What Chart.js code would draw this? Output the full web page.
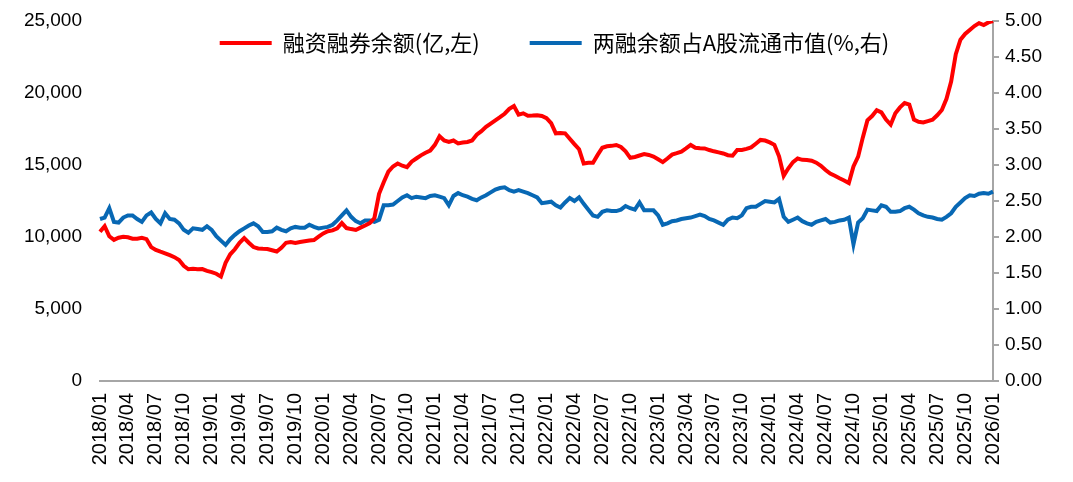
<!DOCTYPE html>
<html>
<head>
<meta charset="utf-8">
<script src="https://cdn.jsdelivr.net/npm/chart.js@4/dist/chart.umd.min.js"></script>
<style>
	html, body { margin: 0; padding: 0; background: #fff; overflow: hidden; }
	#wrap { width: 1073px; height: 482px; position: relative; }
</style>
</head>
<body>
<div id="wrap"><canvas id="margin-chart"></canvas></div>
<script>
// Half-month points, 2018/01 .. 2026/01
var dates = [];
for (var y = 2018; y <= 2026; y++) {
	for (var mo = 1; mo <= 12; mo++) {
		if (y === 2026 && mo > 1) { break; }
		var mm = (mo < 10 ? '0' : '') + mo;
		dates.push(y + '/' + mm);
		if (y < 2026) { dates.push(y + '/' + mm + '/16'); }
	}
}

// 融资融券余额 (亿元, 左轴)
var marginBalance = [
	10370, 10750, 10050, 9800, 9950, 10020, 9980, 9880, 9880, 9940, 9850, 9300, 9100, 8980, 8870, 8740, 8600, 8400, 8000, 7760, 7800, 7760, 7770, 7650,
	7560, 7450, 7250, 8200, 8800, 9150, 9600, 9930, 9600, 9300, 9200, 9180, 9170, 9080, 8990, 9250, 9600, 9650, 9580, 9650, 9700, 9750, 9790, 10020,
	10250, 10400, 10460, 10600, 10970, 10620, 10550, 10490, 10650, 10800, 10970, 11320, 13000, 13800, 14540, 14900, 15100, 14950, 14850, 15230, 15450, 15670, 15850, 16000,
	16400, 17000, 16700, 16600, 16700, 16500, 16560, 16600, 16700, 17100, 17350, 17650, 17880, 18100, 18320, 18560, 18900, 19100, 18500, 18590, 18420, 18430, 18460, 18400,
	18250, 17900, 17200, 17220, 17200, 16820, 16450, 16100, 15100, 15150, 15150, 15700, 16200, 16300, 16330, 16390, 16250, 15950, 15500, 15560, 15660, 15760, 15700, 15590,
	15400, 15200, 15450, 15720, 15820, 15930, 16150, 16390, 16200, 16160, 16150, 16040, 15950, 15880, 15800, 15680, 15650, 16050, 16050, 16120, 16220, 16480, 16740, 16700,
	16570, 16400, 15600, 14250, 14770, 15200, 15450, 15360, 15350, 15300, 15160, 14950, 14650, 14400, 14250, 14080, 13930, 13750, 14900, 15580, 16900, 18100, 18400, 18800,
	18650, 18150, 17800, 18600, 19000, 19300, 19200, 18150, 18000, 17950, 18050, 18150, 18450, 18820, 19600, 20800, 22700, 23700, 24100, 24380, 24650, 24850, 24720, 24900,
	25000
];

// 两融余额占A股流通市值 (%, 右轴)
var marginShare = [
	2.25, 2.27, 2.40, 2.21, 2.20, 2.27, 2.30, 2.30, 2.25, 2.21, 2.30, 2.34, 2.25, 2.19, 2.33, 2.25, 2.24, 2.19, 2.10, 2.06, 2.12, 2.11, 2.10, 2.15,
	2.10, 2.01, 1.95, 1.89, 1.97, 2.03, 2.08, 2.12, 2.16, 2.19, 2.15, 2.07, 2.07, 2.08, 2.13, 2.10, 2.08, 2.12, 2.14, 2.13, 2.13, 2.17, 2.14, 2.12,
	2.13, 2.14, 2.17, 2.23, 2.30, 2.37, 2.28, 2.22, 2.19, 2.23, 2.23, 2.21, 2.24, 2.44, 2.44, 2.45, 2.50, 2.55, 2.58, 2.54, 2.56, 2.55, 2.54, 2.57,
	2.58, 2.56, 2.54, 2.44, 2.57, 2.61, 2.58, 2.56, 2.53, 2.51, 2.55, 2.58, 2.62, 2.66, 2.68, 2.69, 2.65, 2.63, 2.65, 2.63, 2.61, 2.58, 2.55, 2.47,
	2.48, 2.49, 2.44, 2.41, 2.48, 2.54, 2.50, 2.55, 2.46, 2.38, 2.30, 2.28, 2.35, 2.37, 2.36, 2.36, 2.38, 2.43, 2.40, 2.38, 2.48, 2.37, 2.37, 2.37,
	2.30, 2.17, 2.19, 2.22, 2.23, 2.25, 2.26, 2.27, 2.29, 2.31, 2.29, 2.25, 2.23, 2.20, 2.17, 2.24, 2.27, 2.26, 2.30, 2.40, 2.42, 2.42, 2.46, 2.50,
	2.49, 2.48, 2.53, 2.28, 2.21, 2.24, 2.27, 2.22, 2.19, 2.17, 2.21, 2.23, 2.25, 2.20, 2.21, 2.23, 2.24, 2.27, 1.90, 2.20, 2.26, 2.38, 2.37, 2.36,
	2.44, 2.42, 2.35, 2.35, 2.36, 2.40, 2.42, 2.38, 2.33, 2.30, 2.28, 2.27, 2.25, 2.24, 2.28, 2.33, 2.42, 2.48, 2.54, 2.58, 2.57, 2.60, 2.61, 2.60,
	2.63
];

var seriesNames = ['融资融券余额(亿,左)', '两融余额占A股流通市值(%,右)'];

var leftTicks = [0, 5000, 10000, 15000, 20000, 25000];
var rightTicks = [0, 0.5, 1, 1.5, 2, 2.5, 3, 3.5, 4, 4.5, 5];

(function () {
	'use strict';

	var axisGray = '#a6a6a6';
	var tickFont = { family: '"Liberation Sans", Arial, sans-serif', size: 19 };
	var legendPad = 50;

	// Legend sits over the plot: take its height out of the layout, then move it up
	var legendOverlay = {
		id: 'legendOverlay',
		beforeLayout: function (chart) {
			var lg = chart.legend;
			if (lg && ! lg._overlay) {
				var fit = lg.fit;
				lg.fit = function () {
					fit.call( this );
					this.height = 0;
				};
				lg._overlay = true;
			}
		},
		afterLayout: function (chart) {
			var lg = chart.legend;
			lg.top = 43 - 11 - legendPad;
			lg.bottom = lg.top + legendPad * 2 + 30;
			lg.left = 18;
			lg.right = 1073 + 18;
		}
	};

	var config = {
		type: 'line',
		data: {
			labels: dates,
			datasets: [{
				label: seriesNames[0],
				data: marginBalance,
				yAxisID: 'y',
				borderColor: '#ff0000',
				backgroundColor: '#ff0000',
				borderWidth: 4,
				pointRadius: 0,
				tension: 0
			}, {
				label: seriesNames[1],
				data: marginShare,
				yAxisID: 'y1',
				borderColor: '#0868b4',
				backgroundColor: '#0868b4',
				borderWidth: 4,
				pointRadius: 0,
				tension: 0
			}]
		},
		options: {
			responsive: true,
			maintainAspectRatio: false,
			animation: false,
			layout: { padding: { top: 21, left: 0, right: 0, bottom: 0 } },
			plugins: {
				tooltip: { enabled: false },
				legend: {
					position: 'top',
					align: 'center',
					labels: {
						usePointStyle: true,
						pointStyle: 'line',
						pointStyleWidth: 52,
						padding: legendPad,
						color: '#000',
						font: { family: '"Noto Sans CJK SC", sans-serif', size: 22 }
					}
				}
			},
			scales: {
				x: {
					type: 'category',
					offset: false,
					grid: { display: false, drawTicks: false },
					border: { display: true, color: axisGray, width: 2 },
					ticks: {
						autoSkip: false,
						minRotation: 90,
						maxRotation: 90,
						padding: 12,
						color: '#000',
						font: { family: tickFont.family, size: 20 },
						callback: function (value, index) {
							return index % 6 === 0 ? this.getLabelForValue( value ) : '';
						}
					},
					afterFit: function (scale) { scale.height = 101; }
				},
				y: {
					position: 'left',
					min: 0,
					max: 25000,
					// invisible tick marks push the labels off the plot edge
					grid: { drawOnChartArea: false, drawTicks: true, tickLength: 16, tickColor: 'rgba(0,0,0,0)' },
					border: { display: false },
					afterBuildTicks: function (scale) {
						scale.ticks = leftTicks.map( function (v) { return { value: v }; } );
					},
					ticks: {
						padding: 2,
						color: '#000',
						font: tickFont,
						callback: function (value) { return value.toLocaleString( 'en-US' ); }
					},
					afterFit: function (scale) { scale.width = 100; }
				},
				y1: {
					position: 'right',
					min: 0,
					max: 5,
					grid: { drawOnChartArea: false, drawTicks: true, tickLength: 6, color: axisGray, lineWidth: 2 },
					border: { display: true, color: axisGray, width: 2 },
					afterBuildTicks: function (scale) {
						scale.ticks = rightTicks.map( function (v) { return { value: v }; } );
					},
					ticks: {
						padding: 6,
						color: '#000',
						font: tickFont,
						callback: function (value) { return Number( value ).toFixed( 2 ); }
					},
					afterFit: function (scale) { scale.width = 80; }
				}
			}
		},
		plugins: [legendOverlay]
	};

	new Chart( document.getElementById( 'margin-chart' ), config );
})();
</script>
</body>
</html>
